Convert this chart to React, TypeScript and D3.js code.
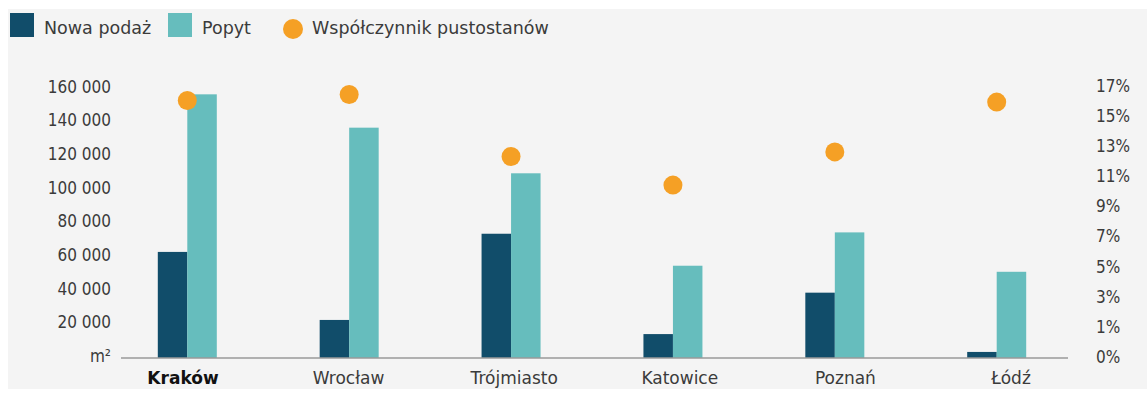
import * as d3 from 'd3';

const CITIES = ['Kraków', 'Wrocław', 'Trójmiasto', 'Katowice', 'Poznań', 'Łódź'];
const NEW_SUPPLY = [63000, 22600, 73800, 14200, 38800, 3600];
const DEMAND = [156600, 136800, 109700, 54800, 74600, 51200];
const VACANCY = [16.1, 16.5, 12.4, 10.5, 12.7, 16.0];

const LEFT_TICKS = [0, 20000, 40000, 60000, 80000, 100000, 120000, 140000, 160000];
const RIGHT_TICKS = [0, 1, 3, 5, 7, 9, 11, 13, 15, 17];

const COLOR_NEW = '#114d6a';
const COLOR_DEMAND = '#66bdbd';
const COLOR_DOT = '#f5a025';
const TEXT = '#3b3b3b';
const FONT = '"DejaVu Sans Condensed", "DejaVu Sans", sans-serif';
const FONT_WIDE = '"DejaVu Sans", sans-serif';

const W = 1147;
const H = 394;
const BASE = 358;
const BAR_W = 29.5;

export default function App() {
  const yLeft = d3.scaleLinear().domain([0, 160000]).range([BASE, 88.6]);
  // the right axis in the source is not linear below 1%
  const yRight = d3.scaleLinear().domain([0, 1, 17]).range([BASE, 328.5, 87]);
  const xGroup = d3.scalePoint<string>().domain(CITIES).range([187.3, 996.7]);
  const xLabel = d3.scalePoint<string>().domain(CITIES).range([183, 1011]);
  const fmt = (v: number) => (v === 0 ? 'm²' : d3.format(',')(v).replace(/,/g, ' '));

  return (
    <svg width={W} height={H} style={{ position: 'absolute', left: 0, top: 0, fontFamily: FONT }}>
      <rect x={0} y={0} width={W} height={H} fill="#ffffff" />
      <rect x={8} y={9} width={W - 8} height={380} fill="#f4f4f4" />

      {/* Legend */}
      <g fontSize={17.5} fill={TEXT} fontFamily={FONT_WIDE}>
        <rect x={10} y={13} width={24} height={24} fill={COLOR_NEW} />
        <text x={44} y={28} dominantBaseline="central">Nowa podaż</text>
        <rect x={168} y={13} width={24} height={24} fill={COLOR_DEMAND} />
        <text x={202} y={28} dominantBaseline="central">Popyt</text>
        <circle cx={293} cy={29} r={10} fill={COLOR_DOT} />
        <text x={312} y={28} dominantBaseline="central">Współczynnik pustostanów</text>
      </g>

      {/* Left axis */}
      <g fontSize={17} fill={TEXT} textAnchor="end">
        {LEFT_TICKS.map(t => (
          <text key={t} x={111} y={yLeft(t) - 2} dominantBaseline="central">
            {fmt(t)}
          </text>
        ))}
      </g>

      {/* Right axis */}
      <g fontSize={17} fill={TEXT}>
        {RIGHT_TICKS.map(t => (
          <text key={t} x={1096} y={yRight(t) - 1.5} dominantBaseline="central">
            {t}%
          </text>
        ))}
      </g>

      {/* Bars */}
      {CITIES.map((c, i) => {
        const cx = xGroup(c) ?? 0;
        return (
          <g key={c}>
            <rect x={cx - BAR_W} y={yLeft(NEW_SUPPLY[i])} width={BAR_W} height={BASE - yLeft(NEW_SUPPLY[i])} fill={COLOR_NEW} />
            <rect x={cx} y={yLeft(DEMAND[i])} width={BAR_W} height={BASE - yLeft(DEMAND[i])} fill={COLOR_DEMAND} />
          </g>
        );
      })}

      <line x1={121} x2={1068} y1={BASE} y2={BASE} stroke="#9a9a9a" strokeWidth={1.5} />

      {/* Vacancy dots */}
      {CITIES.map((c, i) => (
        <circle key={c} cx={xGroup(c) ?? 0} cy={yRight(VACANCY[i])} r={9.5} fill={COLOR_DOT} />
      ))}

      {/* Category labels */}
      <g fontSize={17} fill={TEXT} textAnchor="middle" fontFamily={FONT_WIDE}>
        {CITIES.map((c, i) => (
          <text key={c} x={xLabel(c) ?? 0} y={378} dominantBaseline="central" fontWeight={i === 0 ? 700 : 400} fill={i === 0 ? '#111' : TEXT}>
            {c}
          </text>
        ))}
      </g>
    </svg>
  );
}
